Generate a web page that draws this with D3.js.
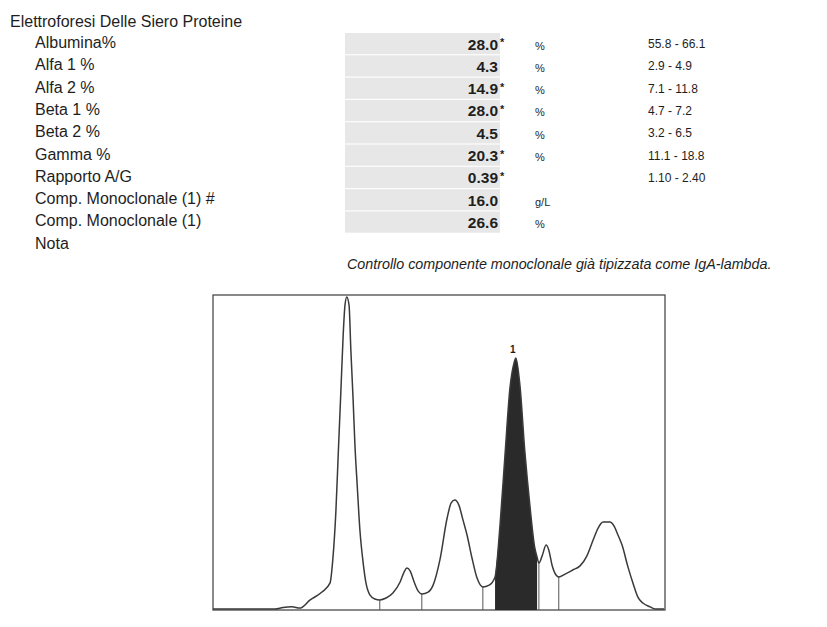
<!DOCTYPE html>
<html>
<head>
<meta charset="utf-8">
<script src="https://cdn.jsdelivr.net/npm/d3@7"></script>
<style>
  body { margin: 0; background: #fff; }
  svg { display: block; font-family: "Liberation Sans", Arial, sans-serif; }
</style>
</head>
<body>
<svg id="chart" width="827" height="627"></svg>
<script>
// Report table
const title = 'Elettroforesi Delle Siero Proteine';
const rowLabels = ['Albumina%', 'Alfa 1 %', 'Alfa 2 %', 'Beta 1 %', 'Beta 2 %', 'Gamma %',
  'Rapporto A/G', 'Comp. Monoclonale (1) #', 'Comp. Monoclonale (1)', 'Nota'];
const values = ['28.0', '4.3', '14.9', '28.0', '4.5', '20.3', '0.39', '16.0', '26.6'];
const outOfRange = [true, false, true, true, false, true, true, false, false];
const units = ['%', '%', '%', '%', '%', '%', '', 'g/L', '%'];
const ranges = ['55.8 - 66.1', '2.9 - 4.9', '7.1 - 11.8', '4.7 - 7.2', '3.2 - 6.5',
  '11.1 - 18.8', '1.10 - 2.40', '', ''];
const note = 'Controllo componente monoclonale già tipizzata come IgA-lambda.';

// Densitometric scan (mobility 0-100, density as % of the albumin peak)
const mobility = [0, 6.4, 13.7, 15.5, 17.5, 19.2, 21.5, 24.1, 25.9, 26.5,
  27.2, 27.7, 28.3, 28.8, 29.2, 29.6, 30.1, 30.5, 31.0, 31.4,
  31.9, 32.5, 33.2, 33.8, 34.7, 35.8, 36.9, 38.3, 39.8, 41.4,
  42.3, 42.9, 43.6, 44.5, 45.4, 46.2, 47.6, 48.7, 50.2, 51.8,
  52.7, 53.5, 54.4, 55.3, 56.2, 57.3, 58.4, 59.7, 61.1, 62.4,
  63.5, 64.6, 65.7, 66.6, 67.0, 67.9, 69.0, 70.1, 71.2, 71.7,
  72.1, 72.8, 73.7, 74.3, 75.0, 75.9, 76.5, 77.9, 79.6, 81.2,
  82.7, 84.1, 85.2, 86.3, 87.8, 88.7, 89.6, 90.5, 91.8, 92.9,
  94.0, 95.1, 96.7, 97.8, 99.8];
const density = [0.3, 0.3, 0.3, 0.8, 1.0, 0.6, 3.2, 5.7, 8.6, 15.9,
  31.7, 49.2, 69.8, 87.3, 96.8, 99.4, 96.8, 82.5, 66.7, 52.4,
  39.7, 25.4, 15.2, 8.9, 4.8, 3.5, 3.2, 3.8, 5.4, 8.9,
  12.1, 13.3, 12.4, 8.9, 6.0, 5.1, 5.7, 7.9, 15.9, 29.2,
  34.0, 34.9, 33.3, 28.6, 23.8, 16.5, 10.2, 7.3, 7.9, 10.5,
  27.0, 49.2, 70.5, 78.4, 80.0, 71.4, 50.2, 33.3, 19.7, 16.8,
  14.9, 17.1, 20.6, 19.0, 14.3, 11.1, 10.5, 11.4, 12.7, 14.0,
  17.1, 22.2, 26.0, 27.9, 27.9, 26.7, 23.8, 20.6, 13.7, 8.6,
  4.1, 2.2, 1.0, 0.3, 0.3];
// Fraction boundaries and the monoclonal band
const dividers = [36.9, 46.2, 59.7, 72.1, 76.5];
const monoBand = [62.4, 71.7];
const monoLabel = '1';

const svg = d3.select('#chart');
const ink = '#1e1e1e';

// ---- table ----
svg.append('text')
  .attr('x', 10).attr('y', 27)
  .attr('font-size', 16).attr('fill', ink)
  .text(title);

const row = d3.scaleBand()
  .domain(d3.range(rowLabels.length))
  .range([33, 33 + 22.2 * rowLabels.length])
  .paddingInner(0.05);

svg.append('g').selectAll('rect')
  .data(values)
  .join('rect')
  .attr('x', 345)
  .attr('y', (d, i) => row(i))
  .attr('width', 155)
  .attr('height', row.bandwidth())
  .attr('fill', '#e7e7e7');

svg.append('g').selectAll('text')
  .data(rowLabels)
  .join('text')
  .attr('x', 35)
  .attr('y', (d, i) => row(i) + 15)
  .attr('font-size', 16)
  .attr('fill', ink)
  .text((d) => d);

svg.append('g').selectAll('text')
  .data(values)
  .join('text')
  .attr('x', 498)
  .attr('y', (d, i) => row(i) + 16.5)
  .attr('text-anchor', 'end')
  .attr('font-size', 15.5)
  .attr('font-weight', 'bold')
  .attr('fill', ink)
  .text((d) => d);

svg.append('g').selectAll('text')
  .data(outOfRange)
  .join('text')
  .attr('x', 500)
  .attr('y', (d, i) => row(i) + 13)
  .attr('font-size', 11)
  .attr('font-weight', 'bold')
  .attr('fill', ink)
  .text((d) => (d ? '*' : ''));

svg.append('g').selectAll('text')
  .data(units)
  .join('text')
  .attr('x', 535)
  .attr('y', (d, i) => row(i) + 16.5)
  .attr('font-size', 11)
  .attr('fill', ink)
  .text((d) => d);

svg.append('g').selectAll('text')
  .data(ranges)
  .join('text')
  .attr('x', 648)
  .attr('y', (d, i) => row(i) + 15)
  .attr('font-size', 12)
  .attr('fill', ink)
  .text((d) => d);

svg.append('text')
  .attr('x', 347).attr('y', 269)
  .attr('font-size', 14.3)
  .attr('font-style', 'italic')
  .attr('fill', ink)
  .text(note);

// ---- electrophoresis scan ----
const points = mobility.map((m, i) => ({ m, v: density[i] }));

const x = d3.scaleLinear().domain([0, 100]).range([213, 665]);
const y = d3.scaleLinear().domain([0, 100]).range([610, 295]);

const densityAt = (m) => {
  const i = d3.bisector((d) => d.m).left(points, m);
  if (i <= 0) return points[0].v;
  if (i >= points.length) return points[points.length - 1].v;
  const a = points[i - 1];
  const b = points[i];
  return a.v + ((b.v - a.v) * (m - a.m)) / (b.m - a.m);
};

const area = d3.area()
  .x((d) => x(d.m))
  .y0(y(0))
  .y1((d) => y(d.v))
  .curve(d3.curveMonotoneX);

const line = d3.line()
  .x((d) => x(d.m))
  .y((d) => y(d.v))
  .curve(d3.curveMonotoneX);

// frame
svg.append('rect')
  .attr('x', x(0)).attr('y', y(100))
  .attr('width', x(100) - x(0))
  .attr('height', y(0) - y(100))
  .attr('fill', 'none')
  .attr('stroke', '#4a4a4a')
  .attr('stroke-width', 1.3);

// monoclonal component
const monoPoints = points.filter((d) => d.m >= monoBand[0] && d.m <= monoBand[1]);
svg.append('path')
  .datum(monoPoints)
  .attr('fill', '#2a2a2a')
  .attr('d', area);

// fraction dividers
svg.append('g').selectAll('line')
  .data(dividers)
  .join('line')
  .attr('x1', (d) => x(d)).attr('x2', (d) => x(d))
  .attr('y1', (d) => y(densityAt(d)))
  .attr('y2', y(0))
  .attr('stroke', '#555')
  .attr('stroke-width', 1);

svg.append('path')
  .datum(points)
  .attr('fill', 'none')
  .attr('stroke', '#3a3a3a')
  .attr('stroke-width', 1.5)
  .attr('stroke-linejoin', 'round')
  .attr('d', line);

const monoPeak = d3.greatest(monoPoints, (d) => d.v);
svg.append('text')
  .attr('x', x(monoPeak.m) - 3)
  .attr('y', y(monoPeak.v) - 5)
  .attr('text-anchor', 'middle')
  .attr('font-size', 10)
  .attr('font-weight', 'bold')
  .attr('fill', ink)
  .text(monoLabel);
</script>
</body>
</html>
